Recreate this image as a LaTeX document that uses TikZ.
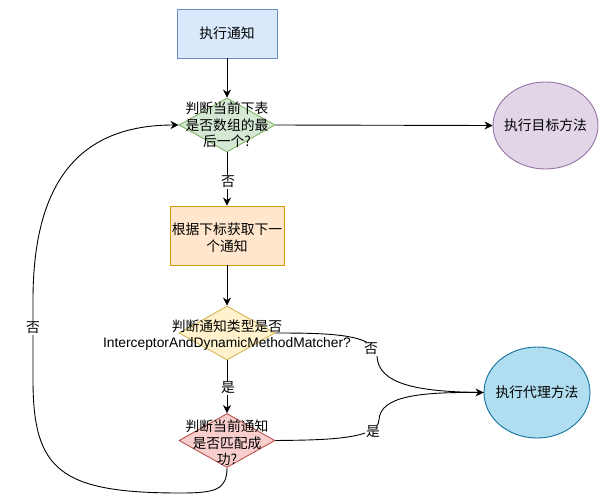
\documentclass[tikz,border=0pt]{standalone}
\usepackage{fontspec}
\setmainfont{Liberation Sans}
\newfontfamily\cjk{Noto Sans CJK SC}
\usetikzlibrary{shapes.geometric,arrows.meta}
\definecolor{blueF}{HTML}{DAE8FC}\definecolor{blueS}{HTML}{6C8EBF}
\definecolor{greenF}{HTML}{D5E8D4}\definecolor{greenS}{HTML}{82B366}
\definecolor{orangeF}{HTML}{FFE6CC}\definecolor{orangeS}{HTML}{D79B00}
\definecolor{yellowF}{HTML}{FFF2CC}\definecolor{yellowS}{HTML}{D6B656}
\definecolor{redF}{HTML}{F8CECC}\definecolor{redS}{HTML}{B85450}
\definecolor{purpleF}{HTML}{E1D5E7}\definecolor{purpleS}{HTML}{9673A6}
\definecolor{cyanF}{HTML}{B1DDF0}\definecolor{cyanS}{HTML}{10739E}
\tikzset{
  base/.style={line width=0.9pt},
  boxnode/.style={base, rectangle, inner sep=0pt},
  dia/.style={base, diamond, inner sep=0pt, minimum width=96pt, minimum height=54pt},
  ell/.style={base, ellipse, inner sep=0pt},
  txt/.style={align=center, inner sep=0pt, font=\fontsize{13.8}{16.5}\selectfont\cjk},
  lbl/.style={fill=white, inner sep=1.2pt, font=\fontsize{13.8}{16.5}\selectfont\cjk},
  arr/.style={line width=0.9pt, -{Stealth[length=8pt,width=8pt,inset=2.5pt]}},
  ln/.style={line width=0.9pt}
}
\begin{document}
\begin{tikzpicture}[x=1pt,y=-1pt]
\useasboundingbox (0,0) rectangle (603,496);
% nodes
\node[boxnode, draw=blueS, fill=blueF, minimum width=100pt, minimum height=49pt] (b1) at (227,33.5) {};
\node[txt] (t1) at (227,33.5) {执行通知};
\node[dia, draw=greenS, fill=greenF] (d1) at (227,125) {};
\node[txt] (t2) at (227,125) {判断当前下表\\是否数组的最\\后一个?};
\node[boxnode, draw=orangeS, fill=orangeF, minimum width=114pt, minimum height=59pt] (b2) at (227,235.5) {};
\node[txt] (t3) at (227,237.5) {根据下标获取下一\\个通知};
\node[dia, draw=yellowS, fill=yellowF] (d3) at (227,333) {};
\node[txt] (t4) at (227,335) {判断通知类型是否\\{\fontspec{Liberation Sans}InterceptorAndDynamicMethodMatcher?}};
\node[dia, draw=redS, fill=redF] (d4) at (227,440.5) {};
\node[txt] (t5) at (227,443) {判断当前通知\\是否匹配成\\功?};
\node[ell, draw=purpleS, fill=purpleF, minimum width=105pt, minimum height=87pt] (e1) at (545.5,125.5) {};
\node[txt] (t6) at (545.5,125.5) {执行目标方法};
\node[ell, draw=cyanS, fill=cyanF, minimum width=106pt, minimum height=91pt] (e2) at (537,392.5) {};
\node[txt] (t7) at (537,392.5) {执行代理方法};
% edges
\draw[arr] (b1.south) -- (d1.north);
\draw[arr] (d1.south) -- (b2.north);
\draw[arr] (b2.south) -- (d3.north);
\draw[arr] (d3.south) -- (d4.north);
\draw[arr] (d1.east) -- (e1.west);
\draw[ln] (d3.east) .. controls (330,333) and (376,334) .. (377,356)
  .. controls (378,385) and (420,392) .. (e2.west);
\draw[arr] (d4.east) .. controls (320,440) and (378,440) .. (379,420)
  .. controls (380,396) and (420,392) .. (e2.west);
\draw[arr] (d4.south) .. controls (227,490) and (215,493) .. (180,493)
  .. controls (60,493) and (33,470) .. (33,380) -- (33,300)
  .. controls (33,175) and (85,125) .. (d1.west);
% labels
\node[lbl] (l1) at (228,182) {否};
\node[lbl] (l2) at (228,388) {是};
\node[lbl] (l3) at (371,349) {否};
\node[lbl] (l4) at (373,432) {是};
\node[lbl] (l5) at (33,328) {否};
\end{tikzpicture}
\end{document}
